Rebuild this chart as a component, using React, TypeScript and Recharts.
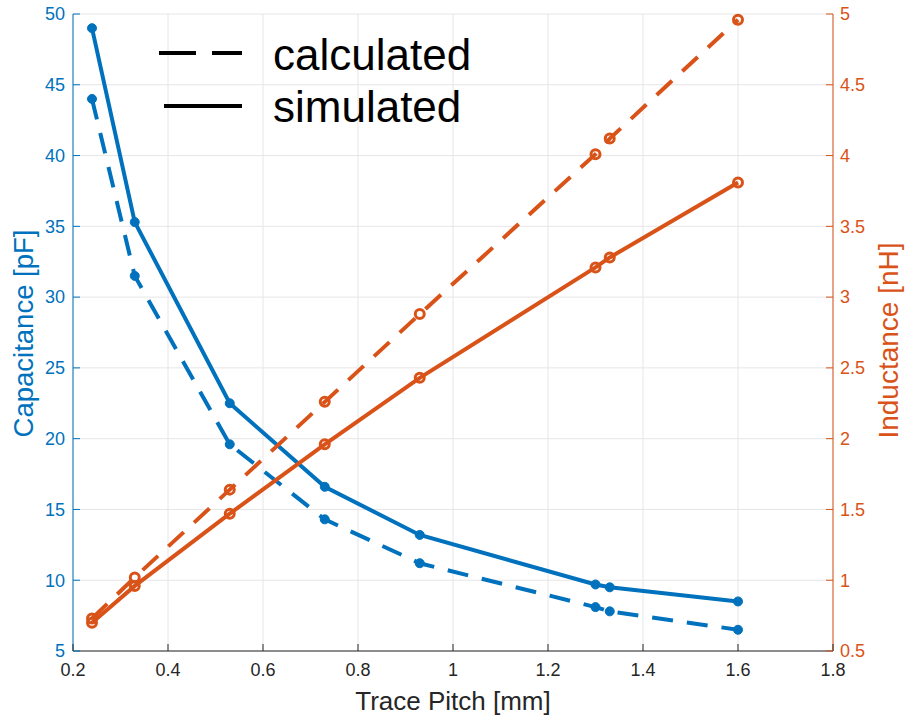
import React from 'react';
import { LineChart, Line, XAxis, YAxis, CartesianGrid, Legend } from 'recharts';

// trace pitch in mm
const pitch = [0.24, 0.33, 0.53, 0.73, 0.93, 1.3, 1.33, 1.6];
// capacitance in pF
const capSimulated = [49, 35.3, 22.5, 16.6, 13.2, 9.7, 9.5, 8.5];
const capCalculated = [44, 31.5, 19.6, 14.3, 11.2, 8.1, 7.8, 6.5];
// inductance in nH
const indSimulated = [0.7, 0.96, 1.47, 1.96, 2.43, 3.21, 3.28, 3.81];
const indCalculated = [0.73, 1.02, 1.64, 2.26, 2.88, 4.01, 4.12, 4.96];

const xTicks = [0.2, 0.4, 0.6, 0.8, 1, 1.2, 1.4, 1.6, 1.8];
const capTicks = [5, 10, 15, 20, 25, 30, 35, 40, 45, 50];
const indTicks = [0.5, 1, 1.5, 2, 2.5, 3, 3.5, 4, 4.5, 5];

const BLUE = '#0072BD';
const ORANGE = '#D95319';
const DARK = '#262626';
const FONT = '"Liberation Sans", Arial, sans-serif';

const data = pitch.map((p, i) => ({
    pitch: p,
    capSim: capSimulated[i],
    capCalc: capCalculated[i],
    indSim: indSimulated[i],
    indCalc: indCalculated[i],
}));

const LeftTick = ({ x, y, payload }: any) => (
    <g>
        <text x={x} y={y} dy="0.35em" textAnchor="end" fill={BLUE} fontSize={18} fontFamily={FONT}>{payload.value}</text>
        <line x1={x + 8} x2={x + 15} y1={y} y2={y} stroke={BLUE} />
    </g>
);

const RightTick = ({ x, y, payload }: any) => (
    <g>
        <text x={x} y={y} dy="0.35em" textAnchor="start" fill={ORANGE} fontSize={18} fontFamily={FONT}>{payload.value}</text>
        <line x1={x - 7} x2={x - 14} y1={y} y2={y} stroke={ORANGE} />
    </g>
);

const BottomTick = ({ x, y, payload }: any) => (
    <g>
        <text x={x} y={y} dy="0.71em" textAnchor="middle" fill={DARK} fontSize={18} fontFamily={FONT}>{payload.value}</text>
        <line x1={x} x2={x} y1={y - 12} y2={y - 19} stroke={DARK} />
    </g>
);

const TopTick = ({ x, y }: any) => <line x1={x} x2={x} y1={y} y2={y + 7} stroke={DARK} />;

const LeftTitle = ({ viewBox }: any) => {
    const cx = viewBox.x + 23;
    const cy = viewBox.y + viewBox.height / 2 + 1;
    return (
        <text x={cx} y={cy} dy="0.355em" transform={`rotate(-90, ${cx}, ${cy})`} textAnchor="middle" fill={BLUE} fontSize={27.5} fontFamily={FONT}>
            Capacitance [pF]
        </text>
    );
};

const RightTitle = ({ viewBox }: any) => {
    const cx = viewBox.x + viewBox.width - 18;
    const cy = viewBox.y + viewBox.height / 2 + 8;
    return (
        <text x={cx} y={cy} dy="0.355em" transform={`rotate(-90, ${cx}, ${cy})`} textAnchor="middle" fill={ORANGE} fontSize={28} fontFamily={FONT}>
            Inductance [nH]
        </text>
    );
};

const renderLegend = () => (
    <svg width={340} height={115}>
        <line x1={9} x2={92} y1={33} y2={33} stroke="#000" strokeWidth={4} strokeDasharray="37 16" />
        <line x1={14} x2={92} y1={86} y2={86} stroke="#000" strokeWidth={4} />
        <text x={123} y={50} fontSize={44} fontFamily={FONT} fill="#000">calculated</text>
        <text x={123} y={102} fontSize={44} fontFamily={FONT} fill="#000">simulated</text>
    </svg>
);

const blueDot = { r: 4.5, fill: BLUE, stroke: BLUE, strokeWidth: 1, strokeDasharray: 'none' };
const orangeDot = { r: 4.5, fill: 'none', stroke: ORANGE, strokeWidth: 3, strokeDasharray: 'none' };

export default function App() {
    return (
        <div style={{ position: 'absolute', left: 0, top: 0, width: 906, height: 717, background: '#fff' }}>
            <LineChart width={906} height={717} data={data} margin={{ top: 14, right: 0, bottom: 0, left: 0 }} style={{ fontFamily: FONT }}>
                <CartesianGrid stroke="#e6e6e6" yAxisId="cap" />
                <XAxis
                    dataKey="pitch"
                    type="number"
                    domain={[0.2, 1.8]}
                    ticks={xTicks}
                    interval={0}
                    height={66}
                    stroke={DARK}
                    tickLine={false}
                    tickSize={0}
                    tickMargin={12}
                    tick={<BottomTick />}
                    label={{ value: 'Trace Pitch [mm]', position: 'insideBottom', offset: 7, fill: DARK, fontSize: 26, fontFamily: FONT }}
                />
                <XAxis
                    xAxisId="top"
                    orientation="top"
                    dataKey="pitch"
                    type="number"
                    domain={[0.2, 1.8]}
                    ticks={xTicks}
                    interval={0}
                    height={0}
                    stroke={DARK}
                    tickLine={false}
                    tickSize={0}
                    tickMargin={0}
                    tick={<TopTick />}
                />
                <YAxis
                    yAxisId="cap"
                    domain={[5, 50]}
                    ticks={capTicks}
                    interval={0}
                    width={73}
                    stroke={BLUE}
                    tickLine={false}
                    tickSize={0}
                    tickMargin={8}
                    tick={<LeftTick />}
                    label={{ content: <LeftTitle /> }}
                />
                <YAxis
                    yAxisId="ind"
                    orientation="right"
                    domain={[0.5, 5]}
                    ticks={indTicks}
                    interval={0}
                    width={73}
                    stroke={ORANGE}
                    tickLine={false}
                    tickSize={0}
                    tickMargin={7}
                    tick={<RightTick />}
                    label={{ content: <RightTitle /> }}
                />
                <Legend layout="vertical" align="center" verticalAlign="middle" content={renderLegend} wrapperStyle={{ left: 150, top: 20, width: 340, height: 115 }} />
                <Line yAxisId="cap" dataKey="capSim" stroke={BLUE} strokeWidth={4} dot={blueDot} activeDot={false} isAnimationActive={false} legendType="none" />
                <Line yAxisId="cap" dataKey="capCalc" stroke={BLUE} strokeWidth={4} strokeDasharray="21 14" dot={blueDot} activeDot={false} isAnimationActive={false} legendType="none" />
                <Line yAxisId="ind" dataKey="indSim" stroke={ORANGE} strokeWidth={4} dot={orangeDot} activeDot={false} isAnimationActive={false} legendType="none" />
                <Line yAxisId="ind" dataKey="indCalc" stroke={ORANGE} strokeWidth={4} strokeDasharray="21 14" dot={orangeDot} activeDot={false} isAnimationActive={false} legendType="none" />
            </LineChart>
        </div>
    );
}
